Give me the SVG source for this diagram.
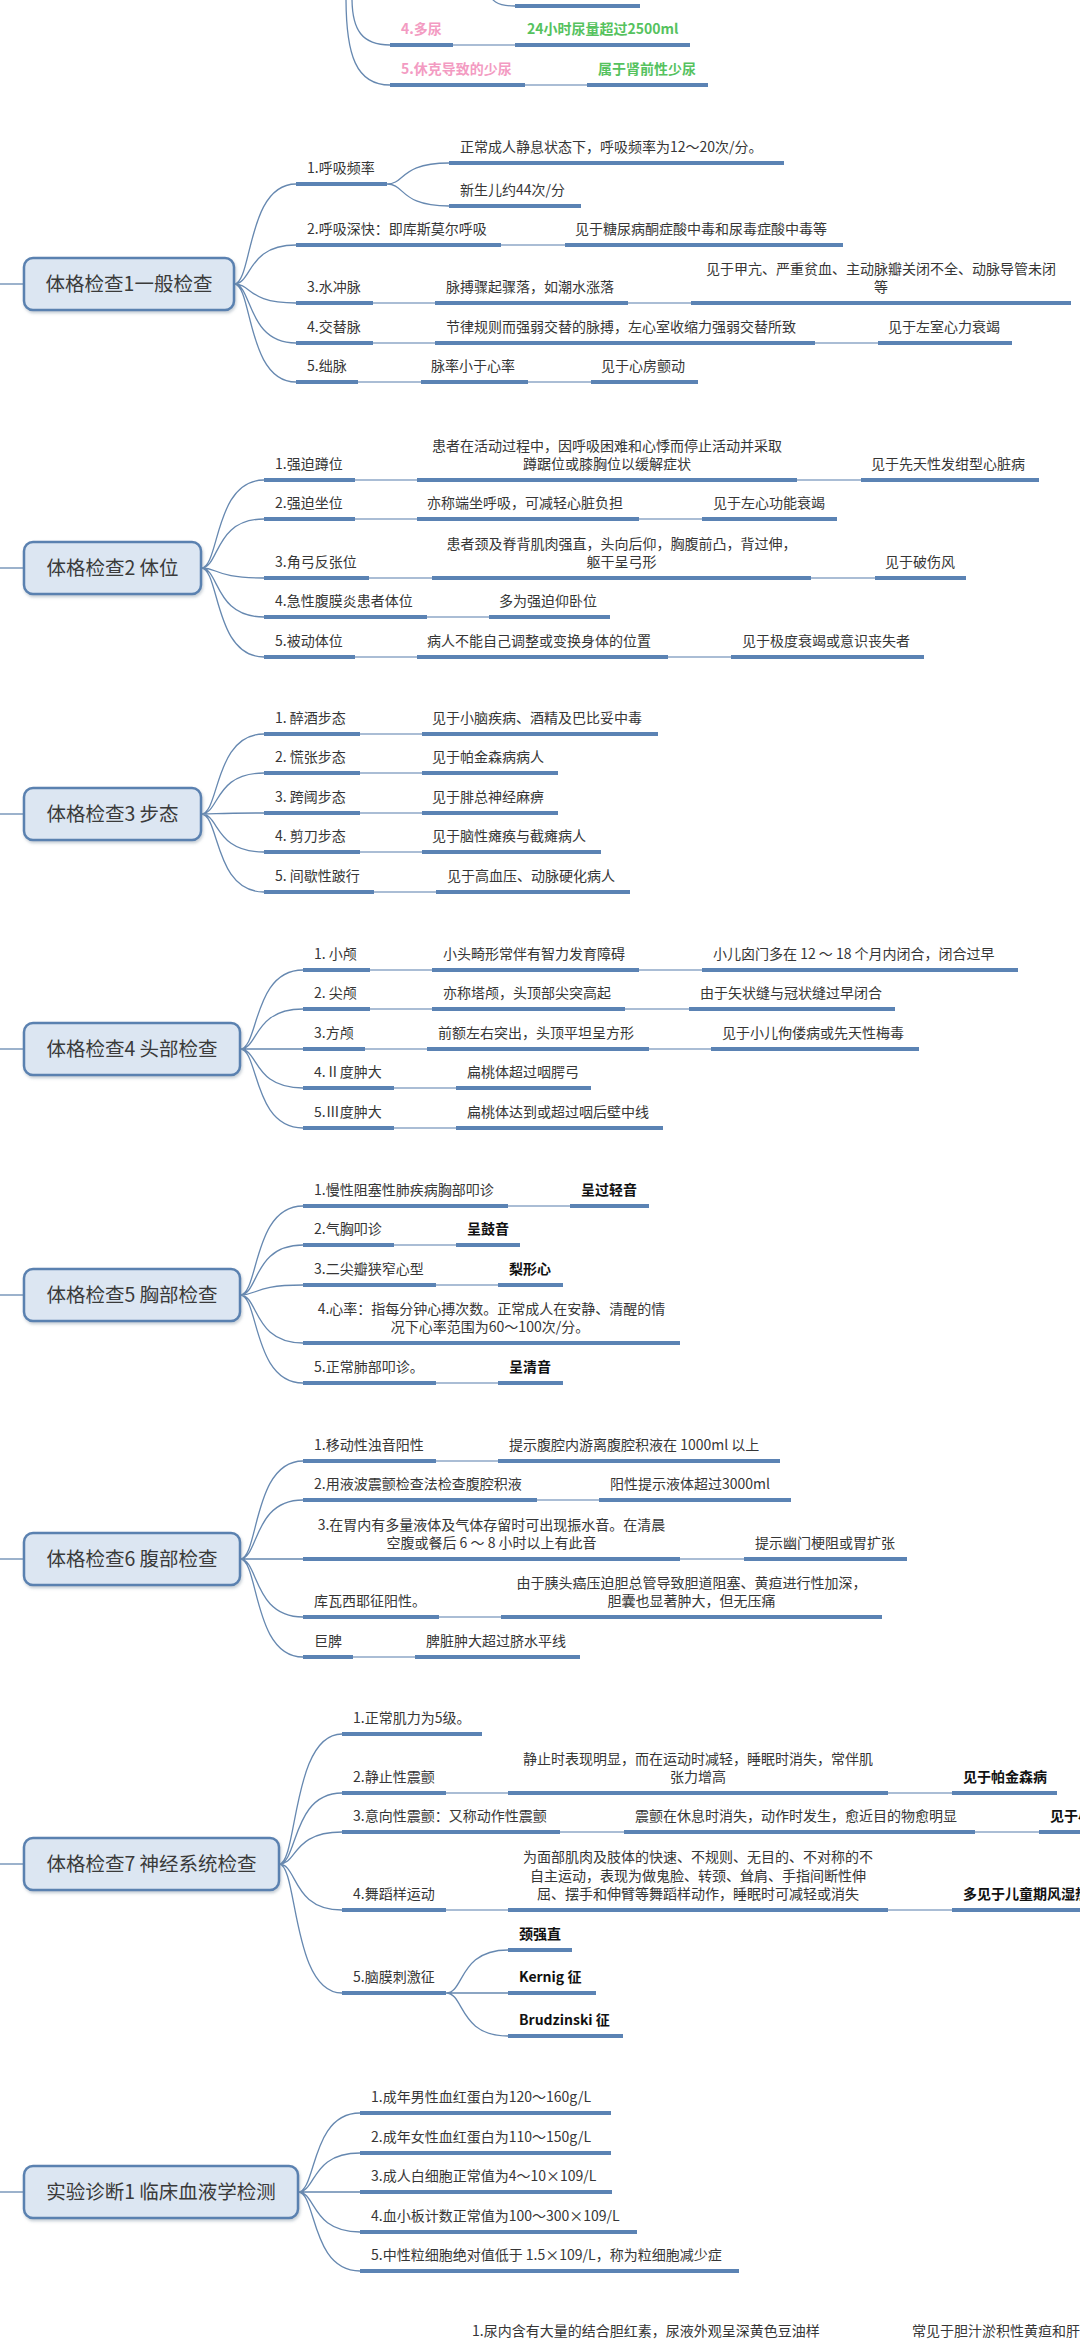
<svg xmlns="http://www.w3.org/2000/svg" width="1080" height="2340" viewBox="0 0 1080 2340">
<style>
text{font-family:"Noto Sans CJK SC","Liberation Sans",sans-serif;font-size:14px;fill:#363636}
.b{font-weight:bold;fill:#111}
.p{fill:#f39bc2;font-weight:bold}
.g{fill:#55c25e;font-weight:bold}
.r{font-size:19.5px;fill:#3a3a3a;text-anchor:middle}
.m{text-anchor:middle}
.u{stroke:#5b83b4;stroke-width:4;fill:none}
.c{stroke:#8ea8c8;stroke-width:1.6;fill:none}
.v{stroke:#6688b0;stroke-width:1.3;fill:none}
.box{fill:#dce6f2;stroke:#5a81b0;stroke-width:2.5}
</style>
<defs>
<filter id="sh" x="-10%" y="-20%" width="125%" height="150%"><feDropShadow dx="1" dy="2" stdDeviation="1.5" flood-color="#7f8fa0" flood-opacity="0.45"/></filter>
</defs>
<rect width="1080" height="2340" fill="#fff"/>

<g id="connectors">
<path class="v" d="M352 -2 C352 30 362 45 390 45"/>
<path class="v" d="M346 -2 C346 55 356 85 390 85"/>
<path class="v" d="M486 -14 C490 2 498 6 515 6"/>
<path class="c" d="M453 45H515M525 85H587"/>
<path class="v" d="M0 284H24"/>
<path class="v" d="M234 284C252.6 284 246.4 184 296 184M234 284C252.6 284 246.4 245 296 245M234 284C252.6 284 246.4 303 296 303M234 284C252.6 284 246.4 343 296 343M234 284C252.6 284 246.4 382 296 382"/>
<path class="v" d="M387 184C405.6 184 399.4 163 449 163M387 184C405.6 184 399.4 206 449 206"/>
<path class="c" d="M501 245H565M373 303H435M628 303H691M373 343H435M815 343H878M358 382H421M528 382H591"/>
<path class="v" d="M0 568H24"/>
<path class="v" d="M201 568C219.9 568 213.6 480 264 480M201 568C219.9 568 213.6 519 264 519M201 568C219.9 568 213.6 578 264 578M201 568C219.9 568 213.6 617 264 617M201 568C219.9 568 213.6 657 264 657"/>
<path class="c" d="M355 480H417M797 480H861M355 519H417M639 519H702M369 578H432M811 578H875M427 617H489M355 657H417M668 657H731"/>
<path class="v" d="M0 814H24"/>
<path class="v" d="M201 814C219.9 814 213.6 734 264 734M201 814C219.9 814 213.6 773 264 773M201 814C219.9 814 213.6 813 264 813M201 814C219.9 814 213.6 852 264 852M201 814C219.9 814 213.6 892 264 892"/>
<path class="c" d="M360 734H422M360 773H422M360 813H422M360 852H422M374 892H436"/>
<path class="v" d="M0 1049H24"/>
<path class="v" d="M240 1049C258.9 1049 252.6 970 303 970M240 1049C258.9 1049 252.6 1009 303 1009M240 1049H303M240 1049C258.9 1049 252.6 1088 303 1088M240 1049C258.9 1049 252.6 1128 303 1128"/>
<path class="c" d="M370 970H432M639 970H702M370 1009H432M625 1009H689M365 1049H427M649 1049H711M394 1088H456M394 1128H456"/>
<path class="v" d="M0 1295H24"/>
<path class="v" d="M240 1295C258.9 1295 252.6 1206 303 1206M240 1295C258.9 1295 252.6 1245 303 1245M240 1295C258.9 1295 252.6 1285 303 1285M240 1295C258.9 1295 252.6 1343 303 1343M240 1295C258.9 1295 252.6 1383 303 1383"/>
<path class="c" d="M508 1206H570M394 1245H456M436 1285H498M436 1383H498"/>
<path class="v" d="M0 1559H24"/>
<path class="v" d="M240 1559C258.9 1559 252.6 1461 303 1461M240 1559C258.9 1559 252.6 1500 303 1500M240 1559H303M240 1559C258.9 1559 252.6 1617 303 1617M240 1559C258.9 1559 252.6 1657 303 1657"/>
<path class="c" d="M436 1461H498M537 1500H599M680 1559H744M439 1617H501M353 1657H415"/>
<path class="v" d="M0 1864H24"/>
<path class="v" d="M279 1864C297.9 1864 291.6 1734 342 1734M279 1864C297.9 1864 291.6 1793 342 1793M279 1864C297.9 1864 291.6 1832 342 1832M279 1864C297.9 1864 291.6 1910 342 1910M279 1864C297.9 1864 291.6 1993 342 1993"/>
<path class="c" d="M446 1793H508M888 1793H952M560 1832H624M975 1832H1039M446 1910H508M888 1910H952"/>
<path class="v" d="M446 1993C464.6 1993 458.4 1950 508 1950M446 1993H508M446 1993C464.6 1993 458.4 2036 508 2036"/>
<path class="v" d="M0 2192H24"/>
<path class="v" d="M298 2192C316.6 2192 310.4 2113 360 2113M298 2192C316.6 2192 310.4 2153 360 2153M298 2192H360M298 2192C316.6 2192 310.4 2232 360 2232M298 2192C316.6 2192 310.4 2271 360 2271"/>
</g>

<g id="top-sub3"><path class="u" d="M515 6H640"/></g>
<g id="top-4"><text class="p" x="401" y="34">4.多尿</text><path class="u" d="M390 45H453"/></g>
<g id="top-4a"><text class="g" x="527" y="34">24小时尿量超过2500ml</text><path class="u" d="M515 45H690"/></g>
<g id="top-5"><text class="p" x="401" y="74">5.休克导致的少尿</text><path class="u" d="M390 85H525"/></g>
<g id="top-5a"><text class="g" x="598" y="74">属于肾前性少尿</text><path class="u" d="M587 85H708"/></g>

<g id="root1"><rect class="box" filter="url(#sh)" x="24" y="258" width="210" height="52" rx="9"/><text class="r" x="129" y="291">体格检查1一般检查</text></g>
<g id="n1-1"><text x="307" y="173">1.呼吸频率</text><path class="u" d="M296 184H387"/></g>
<g id="n1-1a"><text x="460" y="152">正常成人静息状态下，呼吸频率为12～20次/分。</text><path class="u" d="M449 163H784"/></g>
<g id="n1-1b"><text x="460" y="195">新生儿约44次/分</text><path class="u" d="M449 206H581"/></g>
<g id="n1-2"><text x="307" y="234">2.呼吸深快：即库斯莫尔呼吸</text><path class="u" d="M296 245H501"/></g>
<g id="n1-2a"><text x="575" y="234">见于糖尿病酮症酸中毒和尿毒症酸中毒等</text><path class="u" d="M565 245H843"/></g>
<g id="n1-3"><text x="307" y="292">3.水冲脉</text><path class="u" d="M296 303H373"/></g>
<g id="n1-3a"><text x="446" y="292">脉搏骤起骤落，如潮水涨落</text><path class="u" d="M435 303H628"/></g>
<g id="n1-3b"><text class="m" x="881" y="274">见于甲亢、严重贫血、主动脉瓣关闭不全、动脉导管未闭</text><text class="m" x="881" y="292">等</text><path class="u" d="M691 303H1071"/></g>
<g id="n1-4"><text x="307" y="332">4.交替脉</text><path class="u" d="M296 343H373"/></g>
<g id="n1-4a"><text x="446" y="332">节律规则而强弱交替的脉搏，左心室收缩力强弱交替所致</text><path class="u" d="M435 343H815"/></g>
<g id="n1-4b"><text x="888" y="332">见于左室心力衰竭</text><path class="u" d="M878 343H1012"/></g>
<g id="n1-5"><text x="307" y="371">5.绌脉</text><path class="u" d="M296 382H358"/></g>
<g id="n1-5a"><text x="431" y="371">脉率小于心率</text><path class="u" d="M421 382H528"/></g>
<g id="n1-5b"><text x="601" y="371">见于心房颤动</text><path class="u" d="M591 382H698"/></g>

<g id="root2"><rect class="box" filter="url(#sh)" x="24" y="542" width="177" height="52" rx="9"/><text class="r" x="112.5" y="575">体格检查2 体位</text></g>
<g id="n2-1"><text x="275" y="469">1.强迫蹲位</text><path class="u" d="M264 480H355"/></g>
<g id="n2-1a"><text class="m" x="607" y="451">患者在活动过程中，因呼吸困难和心悸而停止活动并采取</text><text class="m" x="607" y="469">蹲踞位或膝胸位以缓解症状</text><path class="u" d="M417 480H797"/></g>
<g id="n2-1b"><text x="871" y="469">见于先天性发绀型心脏病</text><path class="u" d="M861 480H1039"/></g>
<g id="n2-2"><text x="275" y="508">2.强迫坐位</text><path class="u" d="M264 519H355"/></g>
<g id="n2-2a"><text x="427" y="508">亦称端坐呼吸，可减轻心脏负担</text><path class="u" d="M417 519H639"/></g>
<g id="n2-2b"><text x="713" y="508">见于左心功能衰竭</text><path class="u" d="M702 519H837"/></g>
<g id="n2-3"><text x="275" y="567">3.角弓反张位</text><path class="u" d="M264 578H369"/></g>
<g id="n2-3a"><text class="m" x="621.5" y="549">患者颈及脊背肌肉强直，头向后仰，胸腹前凸，背过伸，</text><text class="m" x="621.5" y="567">躯干呈弓形</text><path class="u" d="M432 578H811"/></g>
<g id="n2-3b"><text x="885" y="567">见于破伤风</text><path class="u" d="M875 578H966"/></g>
<g id="n2-4"><text x="275" y="606">4.急性腹膜炎患者体位</text><path class="u" d="M264 617H427"/></g>
<g id="n2-4a"><text x="499" y="606">多为强迫仰卧位</text><path class="u" d="M489 617H610"/></g>
<g id="n2-5"><text x="275" y="646">5.被动体位</text><path class="u" d="M264 657H355"/></g>
<g id="n2-5a"><text x="427" y="646">病人不能自己调整或变换身体的位置</text><path class="u" d="M417 657H668"/></g>
<g id="n2-5b"><text x="742" y="646">见于极度衰竭或意识丧失者</text><path class="u" d="M731 657H924"/></g>

<g id="root3"><rect class="box" filter="url(#sh)" x="24" y="788" width="177" height="52" rx="9"/><text class="r" x="112.5" y="821">体格检查3 步态</text></g>
<g id="n3-1"><text x="275" y="723">1. 醉酒步态</text><path class="u" d="M264 734H360"/></g>
<g id="n3-1a"><text x="432" y="723">见于小脑疾病、酒精及巴比妥中毒</text><path class="u" d="M422 734H658"/></g>
<g id="n3-2"><text x="275" y="762">2. 慌张步态</text><path class="u" d="M264 773H360"/></g>
<g id="n3-2a"><text x="432" y="762">见于帕金森病病人</text><path class="u" d="M422 773H558"/></g>
<g id="n3-3"><text x="275" y="802">3. 跨阈步态</text><path class="u" d="M264 813H360"/></g>
<g id="n3-3a"><text x="432" y="802">见于腓总神经麻痹</text><path class="u" d="M422 813H558"/></g>
<g id="n3-4"><text x="275" y="841">4. 剪刀步态</text><path class="u" d="M264 852H360"/></g>
<g id="n3-4a"><text x="432" y="841">见于脑性瘫痪与截瘫病人</text><path class="u" d="M422 852H601"/></g>
<g id="n3-5"><text x="275" y="881">5. 间歇性跛行</text><path class="u" d="M264 892H374"/></g>
<g id="n3-5a"><text x="447" y="881">见于高血压、动脉硬化病人</text><path class="u" d="M436 892H630"/></g>

<g id="root4"><rect class="box" filter="url(#sh)" x="24" y="1023" width="216" height="52" rx="9"/><text class="r" x="132" y="1056">体格检查4 头部检查</text></g>
<g id="n4-1"><text x="314" y="959">1. 小颅</text><path class="u" d="M303 970H370"/></g>
<g id="n4-1a"><text x="443" y="959">小头畸形常伴有智力发育障碍</text><path class="u" d="M432 970H639"/></g>
<g id="n4-1b"><text x="713" y="959">小儿囟门多在 12 ～ 18 个月内闭合，闭合过早</text><path class="u" d="M702 970H1018"/></g>
<g id="n4-2"><text x="314" y="998">2. 尖颅</text><path class="u" d="M303 1009H370"/></g>
<g id="n4-2a"><text x="443" y="998">亦称塔颅，头顶部尖突高起</text><path class="u" d="M432 1009H625"/></g>
<g id="n4-2b"><text x="700" y="998">由于矢状缝与冠状缝过早闭合</text><path class="u" d="M689 1009H895"/></g>
<g id="n4-3"><text x="314" y="1038">3.方颅</text><path class="u" d="M303 1049H365"/></g>
<g id="n4-3a"><text x="438" y="1038">前额左右突出，头顶平坦呈方形</text><path class="u" d="M427 1049H649"/></g>
<g id="n4-3b"><text x="722" y="1038">见于小儿佝偻病或先天性梅毒</text><path class="u" d="M711 1049H919"/></g>
<g id="n4-4"><text x="314" y="1077">4.Ⅱ度肿大</text><path class="u" d="M303 1088H394"/></g>
<g id="n4-4a"><text x="467" y="1077">扁桃体超过咽腭弓</text><path class="u" d="M456 1088H591"/></g>
<g id="n4-5"><text x="314" y="1117">5.Ⅲ度肿大</text><path class="u" d="M303 1128H394"/></g>
<g id="n4-5a"><text x="467" y="1117">扁桃体达到或超过咽后壁中线</text><path class="u" d="M456 1128H663"/></g>

<g id="root5"><rect class="box" filter="url(#sh)" x="24" y="1269" width="216" height="52" rx="9"/><text class="r" x="132" y="1302">体格检查5 胸部检查</text></g>
<g id="n5-1"><text x="314" y="1195">1.慢性阻塞性肺疾病胸部叩诊</text><path class="u" d="M303 1206H508"/></g>
<g id="n5-1a"><text class="b" x="581" y="1195">呈过轻音</text><path class="u" d="M570 1206H649"/></g>
<g id="n5-2"><text x="314" y="1234">2.气胸叩诊</text><path class="u" d="M303 1245H394"/></g>
<g id="n5-2a"><text class="b" x="467" y="1234">呈鼓音</text><path class="u" d="M456 1245H520"/></g>
<g id="n5-3"><text x="314" y="1274">3.二尖瓣狭窄心型</text><path class="u" d="M303 1285H436"/></g>
<g id="n5-3a"><text class="b" x="509" y="1274">梨形心</text><path class="u" d="M498 1285H563"/></g>
<g id="n5-4"><text class="m" x="491.5" y="1314">4.心率：指每分钟心搏次数。正常成人在安静、清醒的情</text><text class="m" x="490" y="1332">况下心率范围为60～100次/分。</text><path class="u" d="M303 1343H680"/></g>
<g id="n5-5"><text x="314" y="1372">5.正常肺部叩诊。</text><path class="u" d="M303 1383H436"/></g>
<g id="n5-5a"><text class="b" x="509" y="1372">呈清音</text><path class="u" d="M498 1383H563"/></g>

<g id="root6"><rect class="box" filter="url(#sh)" x="24" y="1533" width="216" height="52" rx="9"/><text class="r" x="132" y="1566">体格检查6 腹部检查</text></g>
<g id="n6-1"><text x="314" y="1450">1.移动性浊音阳性</text><path class="u" d="M303 1461H436"/></g>
<g id="n6-1a"><text x="509" y="1450">提示腹腔内游离腹腔积液在 1000ml 以上</text><path class="u" d="M498 1461H780"/></g>
<g id="n6-2"><text x="314" y="1489">2.用液波震颤检查法检查腹腔积液</text><path class="u" d="M303 1500H537"/></g>
<g id="n6-2a"><text x="610" y="1489">阳性提示液体超过3000ml</text><path class="u" d="M599 1500H791"/></g>
<g id="n6-3"><text class="m" x="491.5" y="1530">3.在胃内有多量液体及气体存留时可出现振水音。在清晨</text><text class="m" x="491.5" y="1548">空腹或餐后 6 ～ 8 小时以上有此音</text><path class="u" d="M303 1559H680"/></g>
<g id="n6-3a"><text x="755" y="1548">提示幽门梗阻或胃扩张</text><path class="u" d="M744 1559H907"/></g>
<g id="n6-4"><text x="314" y="1606">库瓦西耶征阳性。</text><path class="u" d="M303 1617H439"/></g>
<g id="n6-4a"><text class="m" x="691.5" y="1588">由于胰头癌压迫胆总管导致胆道阻塞、黄疸进行性加深，</text><text class="m" x="691.5" y="1606">胆囊也显著肿大，但无压痛</text><path class="u" d="M501 1617H882"/></g>
<g id="n6-5"><text x="314" y="1646">巨脾</text><path class="u" d="M303 1657H353"/></g>
<g id="n6-5a"><text x="426" y="1646">脾脏肿大超过脐水平线</text><path class="u" d="M415 1657H580"/></g>

<g id="root7"><rect class="box" filter="url(#sh)" x="24" y="1838" width="255" height="52" rx="9"/><text class="r" x="151.5" y="1871">体格检查7 神经系统检查</text></g>
<g id="n7-1"><text x="353" y="1723">1.正常肌力为5级。</text><path class="u" d="M342 1734H482"/></g>
<g id="n7-2"><text x="353" y="1782">2.静止性震颤</text><path class="u" d="M342 1793H446"/></g>
<g id="n7-2a"><text class="m" x="698" y="1764">静止时表现明显，而在运动时减轻，睡眠时消失，常伴肌</text><text class="m" x="698" y="1782">张力增高</text><path class="u" d="M508 1793H888"/></g>
<g id="n7-2b"><text class="b" x="963" y="1782">见于帕金森病</text><path class="u" d="M952 1793H1057"/></g>
<g id="n7-3"><text x="353" y="1821">3.意向性震颤：又称动作性震颤</text><path class="u" d="M342 1832H560"/></g>
<g id="n7-3a"><text x="635" y="1821">震颤在休息时消失，动作时发生，愈近目的物愈明显</text><path class="u" d="M624 1832H975"/></g>
<g id="n7-3b"><text class="b" x="1050" y="1821">见于小脑疾病</text><path class="u" d="M1039 1832H1090"/></g>
<g id="n7-4"><text x="353" y="1899">4.舞蹈样运动</text><path class="u" d="M342 1910H446"/></g>
<g id="n7-4a"><text class="m" x="698" y="1862">为面部肌肉及肢体的快速、不规则、无目的、不对称的不</text><text class="m" x="698" y="1881">自主运动，表现为做鬼脸、转颈、耸肩、手指间断性伸</text><text class="m" x="698" y="1899">屈、摆手和伸臂等舞蹈样动作，睡眠时可减轻或消失</text><path class="u" d="M508 1910H888"/></g>
<g id="n7-4b"><text class="b" x="963" y="1899">多见于儿童期风湿热</text><path class="u" d="M952 1910H1090"/></g>
<g id="n7-5"><text x="353" y="1982">5.脑膜刺激征</text><path class="u" d="M342 1993H446"/></g>
<g id="n7-5a"><text class="b" x="519" y="1939">颈强直</text><path class="u" d="M508 1950H572"/></g>
<g id="n7-5b"><text class="b" x="519" y="1982">Kernig 征</text><path class="u" d="M508 1993H596"/></g>
<g id="n7-5c"><text class="b" x="519" y="2025">Brudzinski 征</text><path class="u" d="M508 2036H623"/></g>

<g id="root8"><rect class="box" filter="url(#sh)" x="24" y="2166" width="274" height="52" rx="9"/><text class="r" x="161" y="2199">实验诊断1 临床血液学检测</text></g>
<g id="n8-1"><text x="371" y="2102">1.成年男性血红蛋白为120～160g/L</text><path class="u" d="M360 2113H611"/></g>
<g id="n8-2"><text x="371" y="2142">2.成年女性血红蛋白为110～150g/L</text><path class="u" d="M360 2153H611"/></g>
<g id="n8-3"><text x="371" y="2181">3.成人白细胞正常值为4～10×109/L</text><path class="u" d="M360 2192H612"/></g>
<g id="n8-4"><text x="371" y="2221">4.血小板计数正常值为100～300×109/L</text><path class="u" d="M360 2232H637"/></g>
<g id="n8-5"><text x="371" y="2260">5.中性粒细胞绝对值低于 1.5×109/L，称为粒细胞减少症</text><path class="u" d="M360 2271H739"/></g>

<g id="bottom-1"><text x="472" y="2336">1.尿内含有大量的结合胆红素，尿液外观呈深黄色豆油样</text></g>
<g id="bottom-1a"><text x="912" y="2336">常见于胆汁淤积性黄疸和肝细胞性黄疸</text></g>
</svg>
